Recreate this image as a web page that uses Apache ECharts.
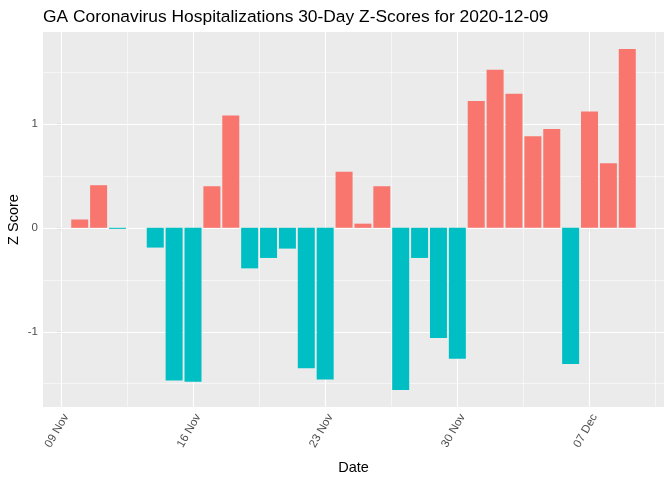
<!DOCTYPE html>
<html>
<head>
<meta charset="utf-8">
<script src="https://cdn.jsdelivr.net/npm/echarts@6/dist/echarts.min.js"></script>
<style>html,body{margin:0;padding:0;background:#fff;}#c{width:672px;height:480px;}</style>
</head>
<body>
<div id="c"></div>
<script>
const titleText = 'GA Coronavirus Hospitalizations 30-Day Z-Scores for 2020-12-09';
const dates = ['2020-11-10','2020-11-11','2020-11-12','2020-11-13','2020-11-14','2020-11-15','2020-11-16','2020-11-17','2020-11-18','2020-11-19',
  '2020-11-20','2020-11-21','2020-11-22','2020-11-23','2020-11-24','2020-11-25','2020-11-26','2020-11-27','2020-11-28','2020-11-29',
  '2020-11-30','2020-12-01','2020-12-02','2020-12-03','2020-12-04','2020-12-05','2020-12-06','2020-12-07','2020-12-08','2020-12-09'];
const zScores = [0.08, 0.41, -0.01, null, -0.19, -1.47, -1.48, 0.40, 1.08, -0.39,
  -0.29, -0.20, -1.35, -1.46, 0.54, 0.04, 0.40, -1.56, -0.29, -1.06,
  -1.26, 1.22, 1.52, 1.29, 0.88, 0.95, -1.31, 1.12, 0.62, 1.72];
const xTickDates = ['2020-11-09','2020-11-16','2020-11-23','2020-11-30','2020-12-07'];
const xTickLabels = ['09 Nov','16 Nov','23 Nov','30 Nov','07 Dec'];
const yTicks = [-1, 0, 1];
const yTickLabels = ['-1', '0', '1'];

const DAY = 86400000;
const origin = Date.UTC(2020, 10, 9);
function dayNum(s) { const p = s.split('-').map(Number); return (Date.UTC(p[0], p[1]-1, p[2]) - origin) / DAY; }
const xTickPos = xTickDates.map(dayNum);
const barData = dates.map((d, i) => [dayNum(d), zScores[i]]);

// ggplot-style expansion (5%) of ranges
const xs = barData.map(d => d[0]);
const xLo = Math.min(...xs) - 0.45, xHi = Math.max(...xs) + 0.45;
const xMin = xLo - (xHi - xLo) * 0.05, xMax = xHi + (xHi - xLo) * 0.05;
const vals = zScores.filter(v => v !== null);
const yLo = Math.min(0, ...vals), yHi = Math.max(0, ...vals);
const yMin = yLo - (yHi - yLo) * 0.05, yMax = yHi + (yHi - yLo) * 0.05;

const grid = [];
xTickPos.forEach(v => grid.push({ xAxis: v, lineStyle: { width: 1.1 } }));
for (let i = 0; i < xTickPos.length; i++) {
  const m = xTickPos[i] + 3.5;
  if (m > xMin && m < xMax) grid.push({ xAxis: m, lineStyle: { width: 0.55 } });
}
yTicks.forEach(v => grid.push({ yAxis: v, lineStyle: { width: 1.1 } }));
[-1.5, -0.5, 0.5, 1.5].forEach(v => { if (v > yMin && v < yMax) grid.push({ yAxis: v, lineStyle: { width: 0.55 } }); });

const chart = echarts.init(document.getElementById('c'), null, { renderer: 'canvas' });
const font = 'Liberation Sans, Arial, sans-serif';
chart.setOption({
  animation: false,
  backgroundColor: '#ffffff',
  title: {
    text: titleText, left: 38, top: 4,
    textStyle: { fontFamily: font, fontSize: 17.4, fontWeight: 'normal', color: '#000' }
  },
  grid: { left: 43, right: 8, top: 32, bottom: 73, show: true, backgroundColor: '#EBEBEB', borderWidth: 0,
    containLabel: false, outerBoundsMode: 'none' },
  xAxis: {
    type: 'value', min: xMin, max: xMax,
    name: 'Date', nameLocation: 'middle', nameGap: 53, nameMoveOverlap: false,
    nameTextStyle: { fontFamily: font, fontSize: 14.5, color: '#000' },
    axisLine: { show: false },
    axisTick: { show: true, customValues: xTickPos, length: 4, lineStyle: { color: '#333333', width: 1.1 } },
    axisLabel: { customValues: xTickPos, rotate: 60, margin: 5, verticalAlign: 'top', fontFamily: font, fontSize: 11.5, color: '#4D4D4D',
      formatter: v => xTickLabels[xTickPos.indexOf(v)] },
    splitLine: { show: false }
  },
  yAxis: {
    type: 'value', min: yMin, max: yMax,
    name: 'Z Score', nameLocation: 'middle', nameGap: 22, nameRotate: 90, nameMoveOverlap: false,
    nameTextStyle: { fontFamily: font, fontSize: 14.5, color: '#000' },
    axisLine: { show: false },
    axisTick: { show: true, customValues: yTicks, length: 4, lineStyle: { color: '#333333', width: 1.1 } },
    axisLabel: { customValues: yTicks, margin: 5, fontFamily: font, fontSize: 11.5, color: '#4D4D4D',
      formatter: v => yTickLabels[yTicks.indexOf(v)] },
    splitLine: { show: false }
  },
  series: [{
    type: 'bar',
    data: barData,
    barWidth: 17,
    z: 3,
    itemStyle: { color: p => (p.value[1] > 0 ? '#F8766D' : '#00BFC4') },
    emphasis: { disabled: true },
    markLine: {
      silent: true, symbol: 'none', z: 1, animation: false,
      label: { show: false },
      emphasis: { disabled: true },
      lineStyle: { color: '#ffffff', type: 'solid' },
      data: grid
    }
  }]
});
</script>
</body>
</html>
